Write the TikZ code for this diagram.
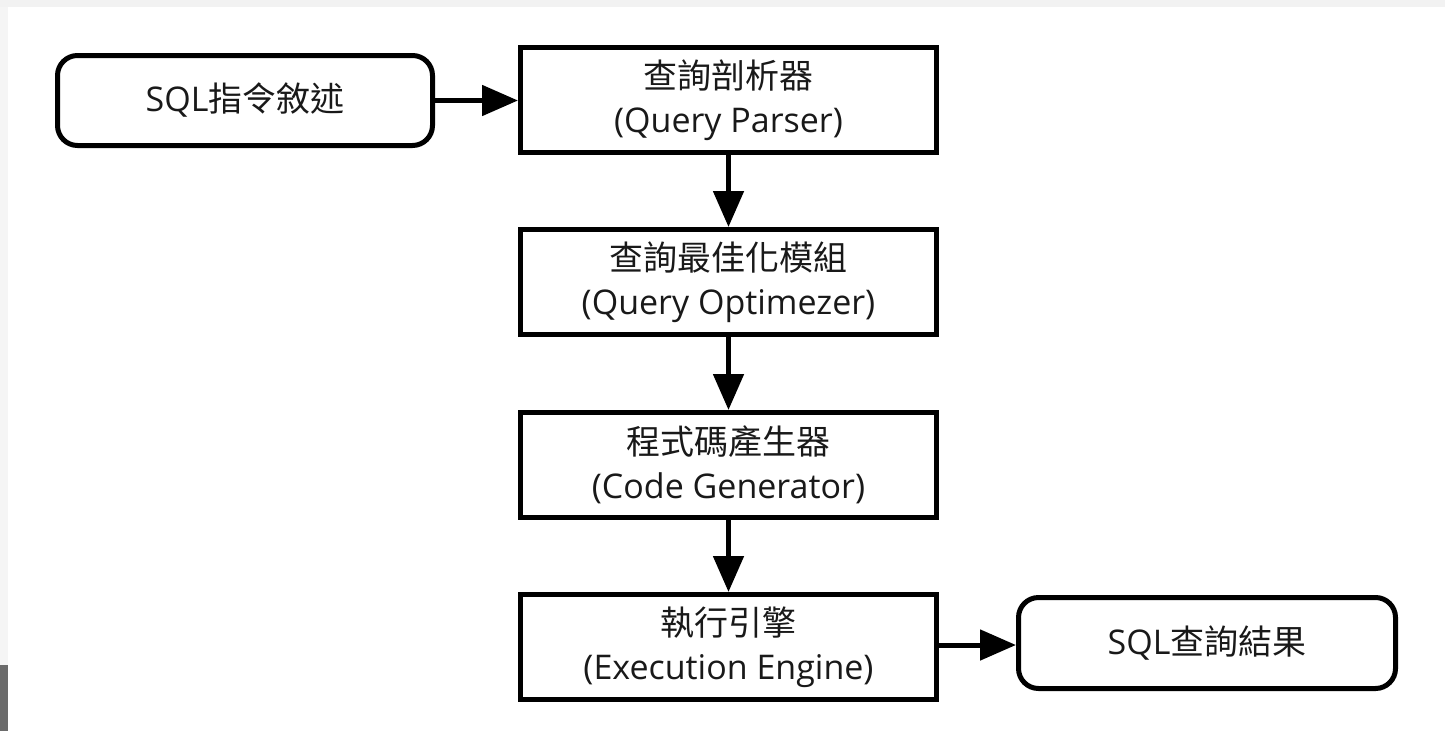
\documentclass[tikz,border=0pt]{standalone}
\usepackage{fontspec}
\setmainfont{Open Sans}
\newfontfamily\cjk{Noto Sans CJK TC}
\usetikzlibrary{arrows.meta}
\begin{document}
\begin{tikzpicture}[x=1pt,y=-1pt,
  box/.style={draw, line width=5pt, minimum width=416pt, minimum height=105pt, align=center,
    font=\fontsize{34}{44}\selectfont, inner sep=0pt, text=black!90},
  rbox/.style={draw, line width=5pt, rounded corners=20pt, align=center,
    font=\fontsize{34}{44}\selectfont, inner sep=0pt, text=black!90},
  arr/.style={line width=5pt, -{Triangle[length=36pt,width=30pt]}}]
% background and margins
\fill[white] (0,0) rectangle (1445,731);
\fill[black!5] (0,0) rectangle (1445,7);
\fill[black!4] (0,7) rectangle (8,665);
\fill[black!58] (0,665) rectangle (8,731);
\useasboundingbox (0,0) rectangle (1445,731);
% nodes
\node[rbox, minimum width=375pt, minimum height=90pt] (sql) at (245,100.5) {SQL{\cjk 指令敘述}};
\node[box] (parser) at (728.5,100) {{\cjk 查詢剖析器}\\(Query Parser)};
\node[box] (opt) at (728.5,282) {{\cjk 查詢最佳化模組}\\(Query Optimezer)};
\node[box] (gen) at (728.5,465) {{\cjk 程式碼產生器}\\(Code Generator)};
\node[box] (exec) at (728.5,647) {{\cjk 執行引擎}\\(Execution Engine)};
\node[rbox, minimum width=377pt, minimum height=91pt] (res) at (1207,643) {SQL{\cjk 查詢結果}};
% connectors
\draw[arr] (sql.east) -- (sql.east -| parser.west);
\draw[arr] (parser.south) -- (opt.north);
\draw[arr] (opt.south) -- (gen.north);
\draw[arr] (gen.south) -- (exec.north);
\draw[arr] ([yshift=2pt]exec.east) -- ([yshift=2pt]exec.east -| res.west);
\end{tikzpicture}
\end{document}
